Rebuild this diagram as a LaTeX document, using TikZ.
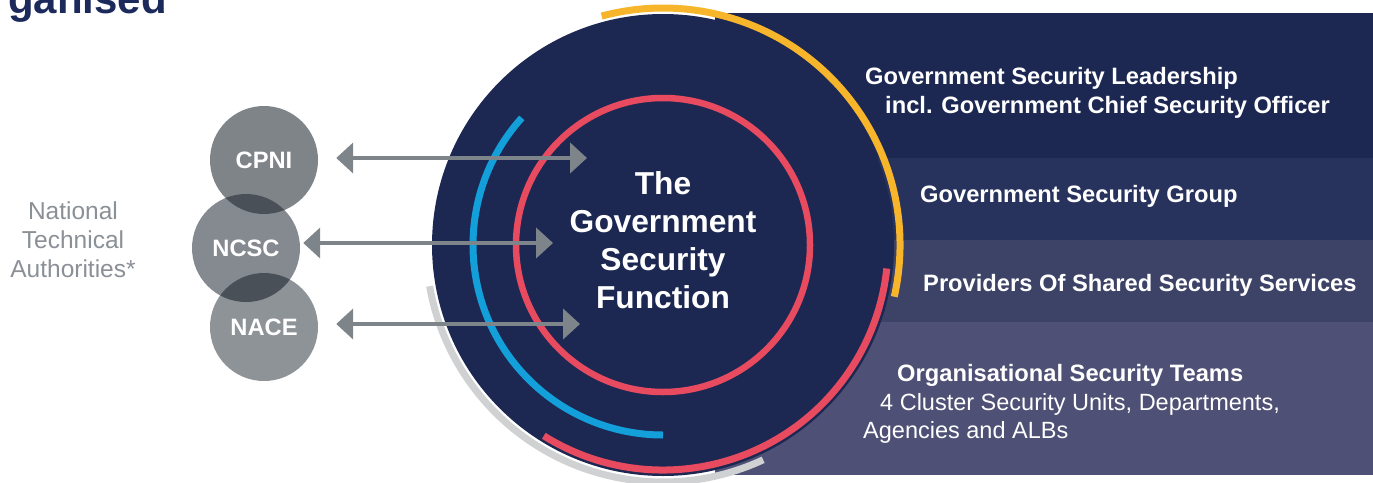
\documentclass[tikz,border=0pt]{standalone}
\usepackage{fontspec}
\setmainfont{Liberation Sans}
\usetikzlibrary{arrows.meta}
\definecolor{navy}{HTML}{1C2852}
\definecolor{bandB}{HTML}{28335D}
\definecolor{bandC}{HTML}{3D4267}
\definecolor{bandD}{HTML}{4E5075}
\definecolor{titlec}{HTML}{1B2A5A}
\definecolor{circA}{HTML}{7F8489}
\definecolor{circB}{HTML}{858A90}
\definecolor{circC}{HTML}{8E9398}
\definecolor{lensc}{HTML}{4A5057}
\definecolor{arrowc}{HTML}{7D848A}
\definecolor{greytext}{HTML}{8A9096}
\definecolor{bluec}{HTML}{139FDA}
\definecolor{redc}{HTML}{E84A5F}
\definecolor{yellowc}{HTML}{F7B52C}
\definecolor{lightgrey}{HTML}{D0D1D3}
\tikzset{
  agency/.style={circle, minimum size=108pt, inner sep=0pt, text=white, font=\bfseries\fontsize{23.7}{26}\selectfont},
  link/.style={draw=arrowc, line width=4.5pt, {Triangle[length=17pt,width=30pt]}-{Triangle[length=17pt,width=30pt]}},
  bandtext/.style={anchor=west, text=white, inner sep=0pt, font=\bfseries\fontsize{23.7}{28}\selectfont},
  bandplain/.style={anchor=west, text=white, inner sep=0pt, font=\fontsize{23.5}{28}\selectfont},
  ring/.style={line width=7pt}
}
\begin{document}
\begin{tikzpicture}[x=1pt,y=-1pt]
\useasboundingbox (0,0) rectangle (1373,482);
\clip (0,0) rectangle (1373,482);
% title fragment
\node[anchor=base west, inner sep=0pt, text=titlec, font=\bfseries\fontsize{42}{46}\selectfont] (title) at (8,13) {ganised};
% bands
\fill[navy]  (715,13)  rectangle (1373,158);
\fill[bandB] (715,158) rectangle (1373,240);
\fill[bandC] (715,240) rectangle (1373,322);
\fill[bandD] (715,322) rectangle (1373,475);
% main circle
\coordinate (c) at (663,245);
\fill[navy] (c) circle (231);
% arcs
\draw[ring, lightgrey] ([shift={(c)}] -190:237) arc[start angle=-190, end angle=-295, radius=237];
\draw[ring, yellowc] ([shift={(c)}] 12.6:237) arc[start angle=12.6, end angle=-105, radius=237];
\draw[ring, redc] ([shift={(c)}] -238:225) arc[start angle=-238, end angle=-354, radius=225];
\draw[ring, bluec] ([shift={(c)}] -138:190) arc[start angle=-138, end angle=-270, radius=190];
\draw[redc, line width=6.5pt] (c) circle (147);
% centre text
\node[align=center, text=white, font=\bfseries\fontsize{31.7}{38}\selectfont] (gsf) at (663,240) {The\\Government\\Security\\Function};
% agencies
\node[agency, fill=circA] (cpni) at (264,160) {};
\node[agency, fill=circB] (ncsc) at (246,248) {};
\node[agency, fill=circC] (nace) at (264,327) {};
\begin{scope}
  \clip (264,160) circle (54);
  \fill[lensc] (246,248) circle (54);
\end{scope}
\begin{scope}
  \clip (264,327) circle (54);
  \fill[lensc] (246,248) circle (54);
\end{scope}
\node[text=white, font=\bfseries\fontsize{23.7}{26}\selectfont] at (cpni) {CPNI};
\node[text=white, font=\bfseries\fontsize{23.7}{26}\selectfont] at (ncsc) {NCSC};
\node[text=white, font=\bfseries\fontsize{23.7}{26}\selectfont] at (nace) {NACE};
\node[align=center, text=greytext, font=\fontsize{24.5}{29}\selectfont] (nta) at (73,240) {National\\Technical\\Authorities*};
% arrows
\coordinate (cpniend) at (587,158);
\coordinate (ncscend) at (553,243);
\coordinate (naceend) at (580,324);
\draw[link, shorten <=18pt] (cpni.east |- cpniend) -- (cpniend);
\draw[link, shorten <=3pt] (ncsc.east |- ncscend) -- (ncscend);
\draw[link, shorten <=18pt] (nace.east |- naceend) -- (naceend);
% band texts
\node[bandtext] (lead) at (865,78) {Government Security Leadership};
\node[bandtext] (gcso) at (885,107) {incl. Government Chief Security Officer};
\node[bandtext] (gsg) at (920,196) {Government Security Group};
\node[bandtext] (pss) at (923,285) {Providers Of Shared Security Services};
\node[bandtext] (ost) at (897,375) {Organisational Security Teams};
\node[bandplain] (csu) at (880,404) {4 Cluster Security Units, Departments,};
\node[bandplain] (alb) at (863,432) {Agencies and ALBs};
\end{tikzpicture}
\end{document}
